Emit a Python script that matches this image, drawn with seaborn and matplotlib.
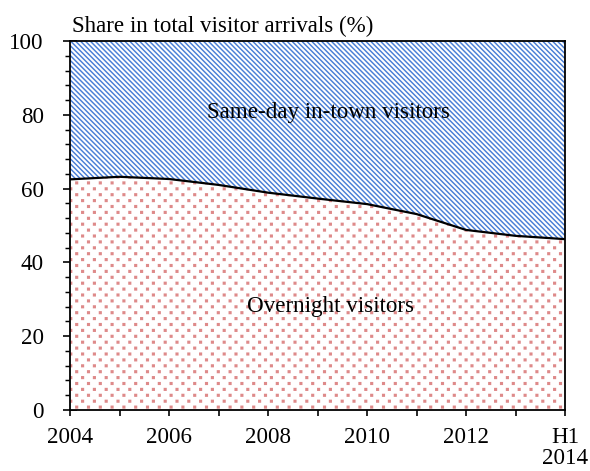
import matplotlib
matplotlib.use("Agg")
import matplotlib.pyplot as plt
import matplotlib.hatch as mhatch
from matplotlib.path import Path
import seaborn as sns
import numpy as np
import pandas as pd
from matplotlib.ticker import MultipleLocator

# ---- data ----
years = [2004, 2005, 2006, 2007, 2008, 2009, 2010, 2011, 2012, 2013, 2014]
overnight_share = [62.5, 63.2, 62.6, 61.0, 58.9, 57.3, 55.8, 53.1, 48.8, 47.2, 46.3]
tick_years = [2004, 2006, 2008, 2010, 2012, 2014]
tick_labels = ["2004", "2006", "2008", "2010", "2012", "H1\n2014"]
title_text = "Share in total visitor arrivals (%)"
label_sameday = "Same-day in-town visitors"
label_overnight = "Overnight visitors"

df = pd.DataFrame({"year": years, "overnight": overnight_share})


# staggered small-square texture used for the '.' hatch
class StaggeredSquares(mhatch.HatchPatternBase):
    side = 0.014

    def __init__(self, hatch, density):
        n = hatch.count('.')
        self.ncols = 5 * n
        self.nrows = 2 * self.ncols
        if n == 0:
            self.num_vertices = 0
        else:
            count = (self.nrows // 2 + 1) * (self.ncols + 1) + (self.nrows // 2) * self.ncols
            self.num_vertices = count * 5

    def set_vertices_and_codes(self, vertices, codes):
        h = self.side / 2
        sq = np.array([[-h, -h], [h, -h], [h, h], [-h, h], [-h, -h]])
        sq_codes = [Path.MOVETO, Path.LINETO, Path.LINETO, Path.LINETO, Path.CLOSEPOLY]
        k = 0
        for i in range(self.nrows + 1):
            y = i / self.nrows
            if i % 2 == 0:
                xs = [j / self.ncols for j in range(self.ncols + 1)]
            else:
                xs = [(j + 0.5) / self.ncols for j in range(self.ncols)]
            for x in xs:
                vertices[k:k + 5] = sq + [x, y]
                codes[k:k + 5] = sq_codes
                k += 5


mhatch._hatch_types = [StaggeredSquares if t is mhatch.SmallFilledCircles else t
                       for t in mhatch._hatch_types]

sns.set_style("ticks")
plt.rcParams["font.family"] = ["Liberation Serif", "DejaVu Serif"]
plt.rcParams["text.color"] = "black"
plt.rcParams["xtick.color"] = "black"
plt.rcParams["ytick.color"] = "black"
plt.rcParams["hatch.linewidth"] = 0.9

DPI = 118
fig = plt.figure(figsize=(590 / DPI, 471 / DPI), dpi=DPI)
ax = fig.add_axes([70 / 590, 1 - 410 / 471, 495 / 590, 369 / 471])

blue = "#4a7fd6"
pink = "#de8a8a"
FS = 14

ax.fill_between(df["year"], df["overnight"], 100, facecolor="white",
                edgecolor=blue, hatch="\\" * 8, linewidth=0)
ax.fill_between(df["year"], 0, df["overnight"], facecolor="white",
                edgecolor=pink, hatch="..", linewidth=0)
sns.lineplot(data=df, x="year", y="overnight", ax=ax, color="black",
             linewidth=1.35)

ax.set_xlim(2004, 2014)
ax.set_ylim(0, 100)
ax.set_xlabel("")
ax.set_ylabel("")

ax.set_xticks(tick_years)
ax.set_xticklabels(tick_labels, fontsize=FS, linespacing=1.0)
ax.xaxis.set_minor_locator(MultipleLocator(1))
ax.tick_params(axis="x", which="both", direction="out", length=3.7, width=1.0,
               pad=6.5, colors="black")
ax.yaxis.set_major_locator(MultipleLocator(20))
ax.yaxis.set_minor_locator(MultipleLocator(4))
ax.tick_params(axis="y", which="major", direction="inout", length=8.5,
               width=1.0, pad=11.8, labelsize=FS, colors="black")
ax.tick_params(axis="y", which="minor", direction="out", length=3,
               width=0.9, colors="black")

for s in ax.spines.values():
    s.set_visible(True)
    s.set_color("black")
    s.set_linewidth(1.1)

ax.text(0.005, 1.012, title_text, transform=ax.transAxes, ha="left",
        va="bottom", fontsize=FS)
ax.text(2009.22, 79.05, label_sameday, ha="center", va="baseline", fontsize=FS)
ax.text(2009.27, 26.6, label_overnight, ha="center", va="baseline", fontsize=FS)

fig.savefig("out.png", dpi=DPI)
